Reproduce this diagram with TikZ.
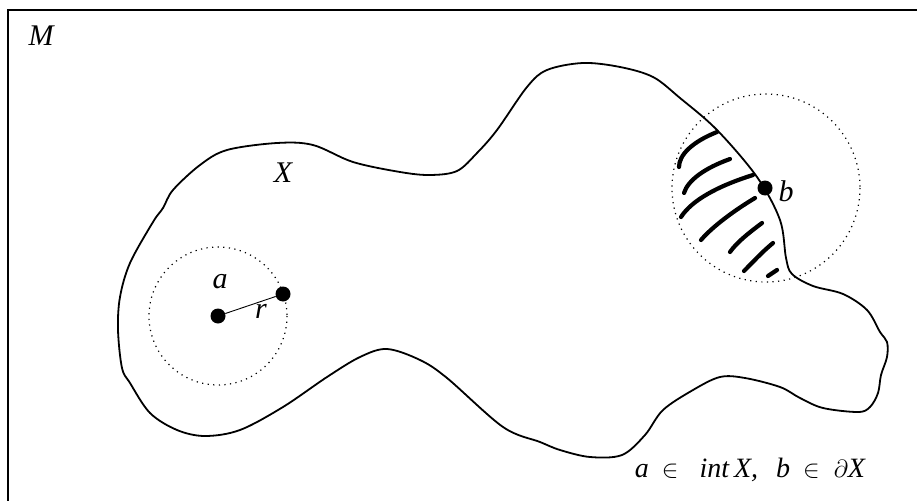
\documentclass[tikz,border=0pt]{standalone}
\usepackage{fontspec}
\setmainfont{Liberation Serif}
\begin{document}
\begin{tikzpicture}[x=1pt,y=-1pt,
  lbl/.style={font=\fontsize{30}{34}\selectfont\itshape, inner sep=0pt},
  boundary/.style={line width=1.8pt, line join=round},
  ball/.style={line width=1.2pt, dash pattern=on 1.2pt off 4.4pt},
  ptdot/.style={circle, fill=black, minimum size=15pt, inner sep=0pt},
  hatch/.style={line width=4.2pt, line cap=round}]
\useasboundingbox (0,0) rectangle (917,500);
\draw[line width=1.1pt] (8,10) rectangle (930,510);
\node[lbl] (M) at (41,36) {M};
% region X
\draw[boundary] plot[smooth cycle, tension=0.55] coordinates {
 (153,222) (163,208) (173,190) (200,165) (227,150) (277,143) (313,145) (353,162)
 (400,172) (430,175) (457,171) (477,153) (497,130) (527,87) (547,70)
 (583,63) (620,67) (653,77) (680,98) (717,130) (757,177) (780,220)
 (786,258) (792,274) (813,286) (843,294) (867,310) (880,332) (887,342)
 (887,357) (881,375) (878,393) (870,407) (858,412) (823,408) (800,398)
 (780,387) (745,378) (720,377) (693,390) (663,410) (645,435) (622,455)
 (590,457) (560,450) (540,442) (503,427) (447,378) (420,360) (387,349)
 (360,357) (327,377) (283,407) (240,430) (205,436) (177,430) (150,413)
 (130,383) (122,368) (118,330) (120,297) (130,263)};
\node[lbl] (X) at (283,173) {X};
% interior point a
\draw[ball] (218,316) circle (69);
\node[ptdot] (a) at (218,316) {};
\node[ptdot] (ra) at (283,294) {};
\draw[line width=0.9pt] (a) -- (ra);
\node[lbl] (alab) at (220,282) {a};
\node[lbl] (rlab) at (261,311) {r};
% boundary point b
\draw[ball] (766,188) circle (94);
\draw[hatch] (717,132) .. controls (692,142) and (679,155) .. (679,167);
\draw[hatch] (730,159) .. controls (705,168) and (688,180) .. (684,193);
\draw[hatch] (753,175) .. controls (718,186) and (692,200) .. (681,217);
\draw[hatch] (755,198) .. controls (735,210) and (713,226) .. (701,240);
\draw[hatch] (762,223) .. controls (750,232) and (737,242) .. (730,252);
\draw[hatch] (773,243) .. controls (762,252) and (752,263) .. (744,271);
\draw[hatch] (777,270) -- (768,276);
\node[ptdot] (b) at (765,188) {};
\node[lbl] (blab) at (786,191) {b};
% caption
\node[font=\fontsize{28}{32}\selectfont\itshape, inner sep=0pt] (cap) at (750,470)
 {a\hspace{13pt}$\in$\hspace{21pt}int\hspace{5pt}X,\hspace{18pt}b\hspace{13pt}$\in$\hspace{14pt}$\partial$X};
\end{tikzpicture}
\end{document}
